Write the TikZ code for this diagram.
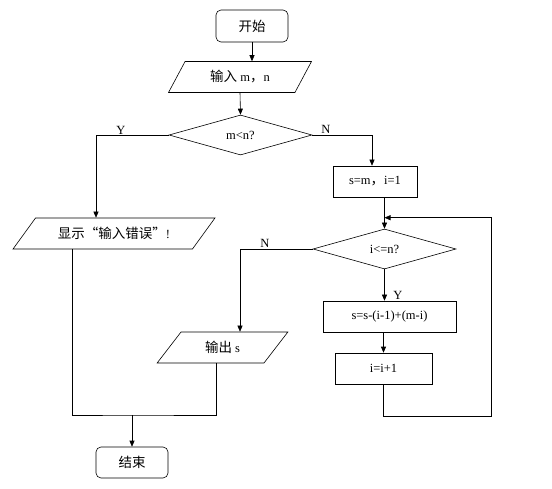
\documentclass[tikz,border=0pt]{standalone}
\usepackage{fontspec}
\setmainfont{Liberation Serif}
\newfontfamily\cjk[Scale=1.08]{Noto Sans CJK SC}
\usetikzlibrary{arrows.meta,shapes.geometric}

\begin{document}
\begin{tikzpicture}[x=1pt,y=-1pt,line width=0.6pt,every node/.style={font=\fontsize{12.5}{14}\selectfont},
term/.style={draw,rounded corners=5pt,minimum width=72pt,minimum height=32pt,inner sep=0pt},
proc/.style={draw,minimum height=31pt,inner sep=0pt},
io/.style={draw,trapezium,trapezium stretches,minimum height=31pt,inner sep=0pt},
dec/.style={draw,diamond,minimum width=143pt,minimum height=40pt,inner sep=0pt},
lbl/.style={inner sep=0pt},
arr/.style={-{Triangle[length=6pt,width=5pt]}}]
\useasboundingbox (0,0) rectangle (552,489);
\node[term] (start) at (252,26) {{\cjk 开始}};
\node[io,trapezium left angle=55,trapezium right angle=125,minimum width=144pt] (inp) at (240,77) {{\cjk 输入} m{\cjk ，}n};
\node[dec] (cmp) at (240.5,135) {m<n?};
\node[proc,minimum width=84pt] (init) at (375,181.5) {s=m{\cjk ，}i=1};
\node[io,trapezium left angle=38,trapezium right angle=142,minimum width=202pt] (err) at (114,233.5) {{\cjk 显示“输入错误”}!};
\node[dec] (chk) at (384.5,249) {i<=n?};
\node[proc,minimum width=133pt] (upd) at (389.5,316.5) {s=s-(i-1)+(m-i)};
\node[proc,minimum width=97pt] (inc) at (383.5,368.5) {i=i+1};
\node[io,trapezium left angle=51,trapezium right angle=129,minimum width=131pt] (outp) at (222.5,347.5) {{\cjk 输出} s};
\node[term,minimum height=31pt] (stop) at (132,462.5) {{\cjk 结束}};
\coordinate (merge) at (132,415);
\coordinate (loopbr) at (491,416);
\coordinate (loopin) at ([yshift=11pt]chk.north);
% connectors
\draw[arr] (start) -- (start |- inp.north);
\draw[arr] (inp.south) -- (cmp.north);
\draw[arr] (cmp.east) -| ([xshift=-3pt]init.north);
\draw[arr] (cmp.west) -| ([xshift=-18pt]err.north);
\draw[arr] (init.south -| chk.north) -- (chk.north);
\draw[arr] (chk.south) -- (chk.south |- upd.north);
\draw[arr] (inc.north |- upd.south) -- (inc.north);
\draw[arr] (inc.south) |- (loopbr) |- (loopin);
\draw[arr] (chk.west) -| ([xshift=17.5pt]outp.north);
\draw ([xshift=-42pt]err.south) |- (merge) -| ([xshift=-6.5pt]outp.south);
\draw[arr] (merge) -- (stop);
\node[lbl] at (121,130) {Y};
\node[lbl] at (326,129) {N};
\node[lbl] at (265,243) {N};
\node[lbl] at (398,295) {Y};
\end{tikzpicture}
\end{document}
